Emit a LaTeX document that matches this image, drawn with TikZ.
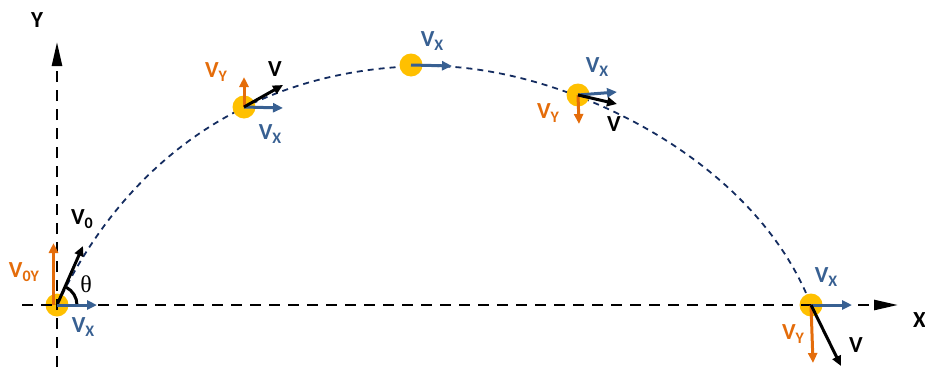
\documentclass[tikz,border=0pt]{standalone}
\usepackage{fontspec}
\setmainfont{Carlito}
\newfontfamily\thetafont{Liberation Serif}
\usetikzlibrary{arrows.meta}
\definecolor{ballyellow}{RGB}{255,192,0}
\definecolor{vxblue}{RGB}{56,96,146}
\definecolor{vyorange}{RGB}{228,108,10}
\definecolor{pathnavy}{RGB}{20,44,96}
\newcommand{\vsub}[1]{V{\fontsize{16}{16}\selectfont\raisebox{-4pt}{#1}}}
\begin{document}
\begin{tikzpicture}[x=1pt, y=-1pt,
				ball/.style = {circle, fill = ballyellow, minimum size = 23, inner sep = 0pt},
				axis/.style = {black, line width = 2.5, dash pattern = on 11pt off 8pt, -{Triangle[length=24pt, width=10pt]}},
				vel/.style = {line width = 3, -{Triangle[length=10pt, width=9pt]}},
				vx/.style = {vel, vxblue},
				vy/.style = {vel, vyorange},
				vv/.style = {vel, black},
				lab/.style = {font = \fontsize{23}{23}\selectfont\bfseries, inner sep = 0pt}
			]
			\useasboundingbox (0,0) rectangle (925,367);

			% trajectory
			\draw [pathnavy, line width = 1.8, dash pattern = on 6pt off 5pt]
			(57,305) .. controls (142,127) and (290,66) .. (430,66)
			.. controls (560,66) and (753,155) .. (811,305);

			\node (p0) [ball] at (57,305) {};
			\node (p1) [ball] at (244,107) {};
			\node (p2) [ball] at (411,65) {};
			\node (p3) [ball] at (578,95) {};
			\node (p4) [ball] at (811,305) {};

			% axes
			\coordinate (ybot) at (57,367);
			\coordinate (ytop) at (57,42);
			\coordinate (xleft) at (22,305);
			\coordinate (xright) at (898,305);
			\path (ybot) edge [axis] (ytop)
			(xleft) edge [axis] (xright);
			\node (ylab) [lab] at (37,20) {Y};
			\node (xlab) [lab, anchor = west] at (913,320) {X};

			% launch point
			\coordinate (v0x) at (97,305);
			\coordinate (v0ybase) at (53.5,305);
			\coordinate (v0y) at (53.5,243);
			\coordinate (v0) at (83,246);
			\draw [black, line width = 3] (p0.center) ++(20,0) arc [start angle = 0, end angle = -63, radius = 20];
			\path (v0ybase) edge [vy] (v0y)
			(p0.center) edge [vv] (v0)
			(p0.center) edge [vx] (v0x);
			\node (l0y) [lab, vyorange] at (24,272) {\vsub{0Y}};
			\node (l0) [lab] at (82,219) {\vsub{0}};
			\node (lth) [inner sep = 0pt, font = \thetafont\fontsize{24}{24}\selectfont] at (86,284) {θ};
			\node (l0x) [lab, vxblue] at (83,327) {\vsub{X}};

			% rising
			\coordinate (v1x) at (283,108);
			\coordinate (v1y) at (244,77);
			\coordinate (v1) at (283,85);
			\path (p1.center) edge [vy] (v1y)
			(p1.center) edge [vx] (v1x)
			(p1.center) edge [vv] (v1);
			\node (l1y) [lab, vyorange] at (216,72) {\vsub{Y}};
			\node (l1) [lab] at (275,69) {V};
			\node (l1x) [lab, vxblue] at (270,134) {\vsub{X}};

			% top
			\coordinate (v2x) at (452,66);
			\path (p2.center) edge [vx] (v2x);
			\node (l2x) [lab, vxblue] at (432,41) {\vsub{X}};

			% falling
			\coordinate (v3x) at (617,92);
			\coordinate (v3y) at (579,124);
			\coordinate (v3) at (617,104);
			\path (p3.center) edge [vx] (v3x)
			(p3.center) edge [vy] (v3y)
			(p3.center) edge [vv] (v3);
			\node (l3x) [lab, vxblue] at (597,67) {\vsub{X}};
			\node (l3y) [lab, vyorange] at (548,113) {\vsub{Y}};
			\node (l3) [lab] at (614,124) {V};

			% landing
			\coordinate (v4x) at (852,305);
			\coordinate (v4y) at (813,363);
			\coordinate (v4) at (841,366);
			\path (p4.center) edge [vx] (v4x)
			(p4.center) edge [vy] (v4y)
			(p4.center) edge [vv] (v4);
			\node (l4x) [lab, vxblue] at (826,277) {\vsub{X}};
			\node (l4y) [lab, vyorange] at (793,334) {\vsub{Y}};
			\node (l4) [lab] at (856,345) {V};
		\end{tikzpicture}
\end{document}
